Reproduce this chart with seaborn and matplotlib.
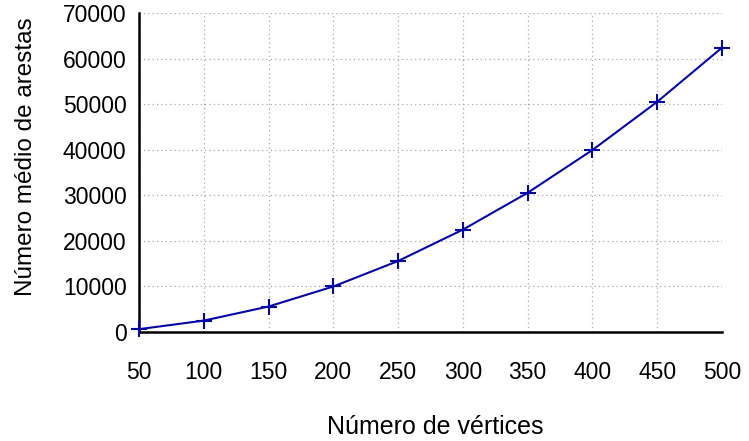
import matplotlib
matplotlib.use("Agg")
import matplotlib.pyplot as plt
import seaborn as sns
import pandas as pd

# Average number of edges per vertex count
vertices = [50, 100, 150, 200, 250, 300, 350, 400, 450, 500]
mean_edges = [620, 2500, 5600, 10000, 15600, 22500, 30600, 40000, 50600, 62500]
x_ticks = [50, 100, 150, 200, 250, 300, 350, 400, 450, 500]
y_ticks = [0, 10000, 20000, 30000, 40000, 50000, 60000, 70000]

sns.set_style("white")
plt.rcParams["font.family"] = ["Liberation Sans", "DejaVu Sans"]
plt.rcParams["text.color"] = "black"
plt.rcParams["axes.labelcolor"] = "black"

df = pd.DataFrame({"vertices": vertices, "edges": mean_edges})

fig = plt.figure(figsize=(7.49, 4.41), dpi=100)
ax = fig.add_axes([0.1856, 0.2472, 0.7784, 0.7222])

sns.lineplot(data=df, x="vertices", y="edges", ax=ax, color="#0606a6",
             linewidth=1.5, marker="+", markersize=11, markeredgewidth=1.5,
             markeredgecolor="#0606a6", zorder=3, clip_on=False)

ax.set_xlim(50, 500)
ax.set_ylim(0, 70000)
ax.set_xticks(x_ticks)
ax.set_yticks(y_ticks)
ax.grid(True, color="#a8a8a8", linestyle=(0, (1, 2.5)), linewidth=0.9)

for side in ("top", "right"):
    ax.spines[side].set_visible(False)
for side in ("left", "bottom"):
    ax.spines[side].set_linewidth(1.8)
    ax.spines[side].set_color("black")

ax.tick_params(axis="both", direction="in", length=11, width=1.8,
               labelsize=16.5, colors="black")
ax.tick_params(axis="x", pad=21)
ax.tick_params(axis="y", pad=9)

ax.set_xlabel("Número de vértices", fontsize=18)
ax.set_ylabel("Número médio de arestas", fontsize=17.5)
ax.xaxis.set_label_coords(0.508, -0.262)
ax.yaxis.set_label_coords(-0.175, 0.55)

fig.savefig("out.png", dpi=100)
